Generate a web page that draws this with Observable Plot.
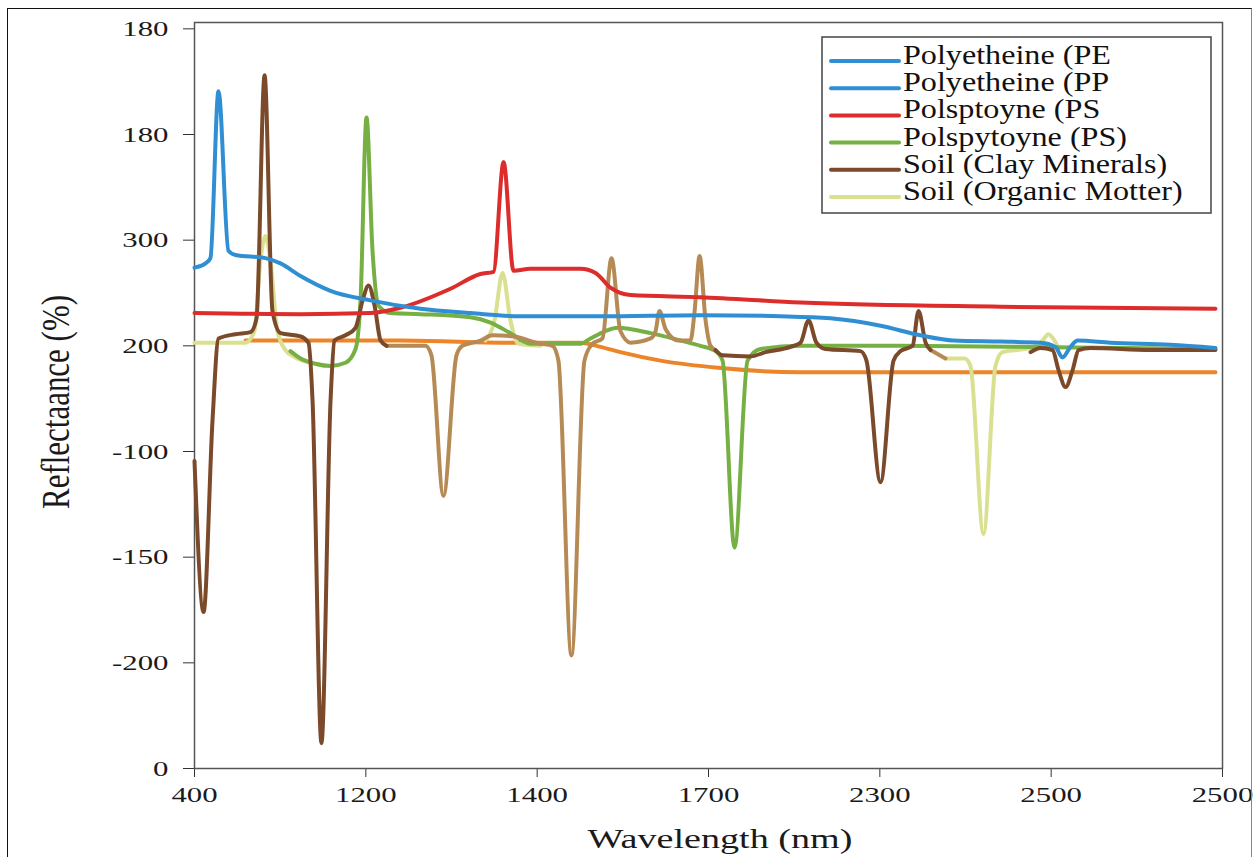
<!DOCTYPE html>
<html>
<head>
<meta charset="utf-8">
<script src="https://cdn.jsdelivr.net/npm/d3@7"></script>
<script src="https://cdn.jsdelivr.net/npm/@observablehq/plot@0.6"></script>
<style>
  html, body { margin: 0; padding: 0; background: #fff; }
  #wrap { position: relative; width: 1254px; height: 857px; overflow: hidden; background: #fff; }
  #border { position: absolute; left: 7px; top: 8px; width: 1243px; height: 860px;
            border-left: 1.5px solid #111; border-top: 1.5px solid #111; border-right: 1px solid #888; pointer-events: none; }
</style>
</head>
<body>
<div id="wrap"><div id="border"></div></div>
<script>
// Tick labels as printed on the reference (positions are evenly spaced)
const xTickLabels = ["400", "1200", "1400", "1700", "2300", "2500", "2500"];
const yTickLabels = ["0", "-200", "-150", "-100", "200", "300", "180", "180"];

// Legend
const legendNames = ["Polyetheine (PE", "Polyetheine (PP", "Polsptoyne (PS", "Polspytoyne (PS)", "Soil (Clay Minerals)", "Soil (Organic Motter)"];
const legendColors = ["#2f8fd2", "#2f8fd2", "#dc2d2c", "#76b043", "#7a4a2b", "#d9e08f"];

// Series values, in axis-position units (x: 0..6 tick slots, y: 0..7 tick slots); null breaks a line
const peX = [0, 0.064, 0.093, 0.140, 0.198, 0.239, 0.414, 0.502, 0.619, 0.794, 1.027, 1.319, 1.611, 1.903, 2.370, 2.953, 3.420, 3.712, 4.004, 4.237, 4.430, 4.704, 4.938, 5.025, 5.066, 5.113, 5.154, 5.346, 5.697, 5.959];
const peY = [4.74, 4.78, 4.83, 6.41, 4.90, 4.86, 4.83, 4.78, 4.66, 4.52, 4.43, 4.35, 4.31, 4.28, 4.28, 4.29, 4.28, 4.26, 4.19, 4.10, 4.05, 4.04, 4.03, 3.99, 3.89, 3.99, 4.05, 4.03, 4.01, 3.98];

const psX = [0, 0.619, 1.027, 1.202, 1.494, 1.669, 1.745, 1.804, 1.862, 1.961, 2.253, 2.341, 2.428, 2.545, 2.953, 3.537, 4.704, 5.959];
const psY = [4.31, 4.30, 4.31, 4.36, 4.54, 4.68, 4.70, 5.74, 4.71, 4.73, 4.73, 4.69, 4.55, 4.48, 4.46, 4.41, 4.37, 4.35];

const ps2X = [0.560, 0.619, 0.706, 0.794, 0.881, 0.940, 0.969, 1.004, 1.039, 1.074, 1.144, 1.319, 1.611, 1.728, 1.844, 1.961, 2.253, 2.311, 2.399, 2.469, 2.662, 2.837, 2.953, 3.041, 3.082, 3.152, 3.228, 3.304, 3.537, 4.121, 4.880, 5.959];
const ps2Y = [3.95, 3.88, 3.83, 3.81, 3.84, 3.97, 4.43, 6.16, 4.90, 4.38, 4.31, 4.30, 4.27, 4.22, 4.12, 4.02, 4.02, 4.07, 4.14, 4.17, 4.12, 4.05, 4.00, 3.95, 3.86, 2.09, 3.86, 3.97, 4.00, 4.00, 3.99, 3.97];

const clayX = [0, 0.053, 0.105, 0.140, 0.239, 0.327, 0.362, 0.409, 0.455, 0.502, 0.619, 0.665, 0.689, 0.741, 0.794, 0.817, 0.881, 0.940, 0.981, 1.016, 1.051, 1.086, 1.121,
               1.2,
               3.041, 3.082, 3.245, 3.333, 3.479, 3.537, 3.584, 3.630, 3.683, 3.887, 3.922, 4.004, 4.080, 4.121, 4.191, 4.226, 4.267, 4.296,
               4.5,
               4.880, 4.938, 5.008, 5.043, 5.084, 5.125, 5.160, 5.230, 5.580, 5.959];
const clayY = [2.91, 1.48, 3.29, 4.07, 4.11, 4.13, 4.26, 6.56, 4.33, 4.12, 4.09, 4.03, 3.48, 0.24, 3.48, 4.05, 4.10, 4.17, 4.43, 4.57, 4.38, 4.05, 4.00,
               null,
               3.96, 3.91, 3.90, 3.94, 3.99, 4.03, 4.24, 4.03, 3.97, 3.95, 3.86, 2.71, 3.86, 3.95, 4.00, 4.33, 4.03, 3.96,
               null,
               3.94, 3.98, 3.96, 3.77, 3.61, 3.77, 3.96, 3.98, 3.96, 3.96];

const tanX = [1.121, 1.348, 1.383, 1.453, 1.529, 1.564, 1.669, 1.739, 1.856, 2.019, 2.089, 2.124, 2.200, 2.276, 2.323, 2.381, 2.434, 2.486, 2.545, 2.662, 2.691, 2.714, 2.749, 2.825, 2.895, 2.919, 2.948, 2.983, 3.012, 3.041,
              3.5,
              4.296, 4.383];
const tanY = [4.00, 4.00, 3.91, 2.58, 3.91, 4.00, 4.05, 4.10, 4.09, 4.02, 4.00, 3.86, 1.07, 3.86, 4.02, 4.07, 4.83, 4.14, 4.03, 4.07, 4.14, 4.33, 4.16, 4.05, 4.05, 4.33, 4.85, 4.24, 4.00, 3.96,
              null,
              3.96, 3.88];

const orgX = [0, 0.298, 0.350, 0.385, 0.414, 0.444, 0.484, 0.531, 0.589, 0.677, 0.765,
              1.0,
              1.698, 1.751, 1.798, 1.844, 1.891, 2.019,
              3.0,
              4.383, 4.495, 4.529, 4.605, 4.675, 4.716, 4.880, 4.950, 4.984, 5.019, 5.043];
const orgY = [4.03, 4.03, 4.14, 4.81, 5.04, 4.79, 4.14, 3.96, 3.89, 3.84, 3.81,
              null,
              4.05, 4.24, 4.69, 4.24, 4.02, 4.00,
              null,
              3.88, 3.88, 3.81, 2.22, 3.81, 3.94, 3.98, 4.05, 4.11, 4.05, 3.98];

const orangeX = [0.298, 1.202, 1.786, 2.253, 2.370, 2.486, 2.720, 3.070, 3.537, 4.880, 5.959];
const orangeY = [4.05, 4.05, 4.03, 4.03, 3.99, 3.94, 3.86, 3.79, 3.75, 3.75, 3.75];

const toRows = (xs, ys) => xs.map((x, i) => ({x, y: ys[i]}));

const series = [
  {rows: toRows(orangeX, orangeY), color: "#ee8428"},
  {rows: toRows(orgX, orgY), color: legendColors[5]},
  {rows: toRows(ps2X, ps2Y), color: legendColors[3]},
  {rows: toRows(tanX, tanY), color: "#b58a55"},
  {rows: toRows(clayX, clayY), color: legendColors[4]},
  {rows: toRows(psX, psY), color: legendColors[2]},
  {rows: toRows(peX, peY), color: legendColors[0]}
];

const plot = Plot.plot({
  width: 1254,
  height: 857,
  marginLeft: 194,
  marginRight: 32,
  marginTop: 22,
  marginBottom: 89,
  style: {fontFamily: "'Liberation Serif', 'Times New Roman', serif", fontSize: "22px", color: "#333", background: "transparent"},
  x: {domain: [0, 6], ticks: d3.range(xTickLabels.length), tickFormat: i => xTickLabels[i], tickSize: 9, tickPadding: 9, label: null},
  y: {domain: [0, 7.06], ticks: d3.range(yTickLabels.length), tickFormat: i => yTickLabels[i], tickSize: 11, tickPadding: 15, label: null},
  marks: [
    Plot.frame({stroke: "#555", strokeWidth: 1.5}),
    ...series.map(s => Plot.line(s.rows, {
      x: "x", y: "y", stroke: s.color, strokeWidth: 4, curve: "monotone-x",
      strokeLinejoin: "round", strokeLinecap: "round"
    }))
  ]
});

document.getElementById("wrap").insertBefore(plot, document.getElementById("border"));

const svg = d3.select(plot);
// stretch tick labels horizontally like the reference glyphs
svg.selectAll("text").each(function () {
  this.style.fill = "#1a1a1a";
  const w = this.getComputedTextLength();
  if (w > 0) {
    this.setAttribute("textLength", w * 1.4);
    this.setAttribute("lengthAdjust", "spacingAndGlyphs");
  }
});

// axis titles
svg.append("text")
  .attr("x", 720).attr("y", 848)
  .attr("text-anchor", "middle")
  .attr("font-size", 28)
  .attr("fill", "#1a1a1a")
  .attr("textLength", 265)
  .attr("lengthAdjust", "spacingAndGlyphs")
  .text("Wavelength (nm)");

svg.append("text")
  .attr("transform", "translate(55,402) scale(1.25,1) rotate(-90)")
  .attr("text-anchor", "middle")
  .attr("dy", "0.35em")
  .attr("font-size", 32)
  .attr("fill", "#1a1a1a")
  .attr("textLength", 214)
  .attr("lengthAdjust", "spacingAndGlyphs")
  .text("Reflectaance (%)");

// legend
const lg = svg.append("g").attr("text-anchor", "start");
lg.append("rect")
  .attr("x", 822).attr("y", 37).attr("width", 389).attr("height", 176)
  .attr("fill", "white").attr("stroke", "#444").attr("stroke-width", 1.5);
legendNames.forEach((name, i) => {
  const cy = 61 + 27.2 * i;
  lg.append("line")
    .attr("x1", 831).attr("x2", 899).attr("y1", cy).attr("y2", cy)
    .attr("stroke", legendColors[i]).attr("stroke-width", 4).attr("stroke-linecap", "round");
  const t = lg.append("text")
    .attr("x", 903).attr("y", cy + 3)
    .attr("text-anchor", "start")
    .attr("font-size", 27)
    .attr("fill", "#111")
    .text(name);
  const w = t.node().getComputedTextLength();
  t.attr("textLength", Math.min(w * 1.19, 292)).attr("lengthAdjust", "spacingAndGlyphs");
});
</script>
</body>
</html>
